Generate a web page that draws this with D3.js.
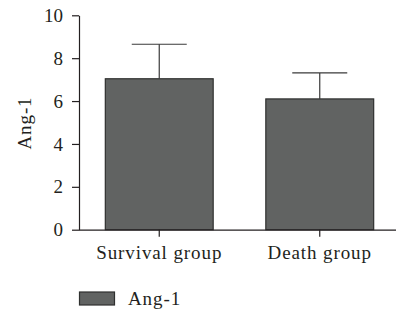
<!DOCTYPE html>
<meta charset="utf-8">
<script src="https://d3js.org/d3.v7.min.js"></script>
<style>
  body { margin: 0; background: #fff; }
  text { font-family: "Liberation Serif", "DejaVu Serif", serif; fill: #231f20; }
</style>
<div id="my_dataviz"></div>
<script>

// data
var groups = ["Survival group", "Death group"];
var means = [7.04, 6.1];
var errs = [1.61, 1.21];
var yTicks = [0, 2, 4, 6, 8, 10];
var seriesName = "Ang-1";

var width = 396, height = 313;
var fs = "19px";

var svg = d3.select("#my_dataviz")
  .append("svg")
  .attr("width", width)
  .attr("height", height);

var x = d3.scaleBand()
  .domain(groups)
  .range([79, 400])
  .paddingInner(0.328)
  .paddingOuter(0.164);

var y = d3.scaleLinear()
  .domain([0, 10])
  .range([229.7, 15.3]);

// bars
svg.selectAll(".bar")
  .data(groups)
  .enter()
  .append("rect")
  .attr("class", "bar")
  .attr("x", function(d) { return x(d); })
  .attr("y", function(d, i) { return y(means[i]); })
  .attr("width", x.bandwidth())
  .attr("height", function(d, i) { return y(0) - y(means[i]); })
  .style("fill", "#616362")
  .style("stroke", "#2f302f")
  .style("stroke-width", 1.2);

// error bars (upper only)
var capW = 55;
groups.forEach(function(g, i) {
  var cx = x(g) + x.bandwidth() / 2;
  svg.append("line")
    .attr("x1", cx).attr("x2", cx)
    .attr("y1", y(means[i])).attr("y2", y(means[i] + errs[i]))
    .style("stroke", "#3a3a3a").style("stroke-width", 1.2);
  svg.append("line")
    .attr("x1", cx - capW / 2).attr("x2", cx + capW / 2)
    .attr("y1", y(means[i] + errs[i])).attr("y2", y(means[i] + errs[i]))
    .style("stroke", "#3a3a3a").style("stroke-width", 1.2);
});

// y axis
var yAxis = svg.append("g")
  .attr("transform", "translate(79,0)")
  .call(d3.axisLeft(y).tickValues(yTicks).tickSize(7).tickPadding(9).tickSizeOuter(0));
yAxis.selectAll("text").style("font-size", fs);

// x axis
var xAxis = svg.append("g")
  .attr("transform", "translate(0," + y(0) + ")")
  .call(d3.axisBottom(x).tickSize(7).tickPadding(9).tickSizeOuter(0));
xAxis.selectAll("text").style("font-size", fs).style("letter-spacing", "0.9px");
xAxis.select(".domain").attr("d", "M79,0.5H396");

svg.selectAll(".domain, .tick line")
  .style("stroke", "#231f20")
  .style("stroke-width", 1.2);

// y label
svg.append("text")
  .attr("transform", "translate(31,123) rotate(-90)")
  .attr("text-anchor", "middle")
  .style("font-size", fs)
  .style("letter-spacing", "0.9px")
  .text(seriesName);

// legend
svg.append("rect")
  .attr("x", 79.5).attr("y", 292)
  .attr("width", 35).attr("height", 13)
  .style("fill", "#616362")
  .style("stroke", "#2f302f")
  .style("stroke-width", 1.2);
svg.append("text")
  .attr("x", 128).attr("y", 304.5)
  .style("font-size", fs)
  .style("letter-spacing", "0.9px")
  .text(seriesName);

</script>
